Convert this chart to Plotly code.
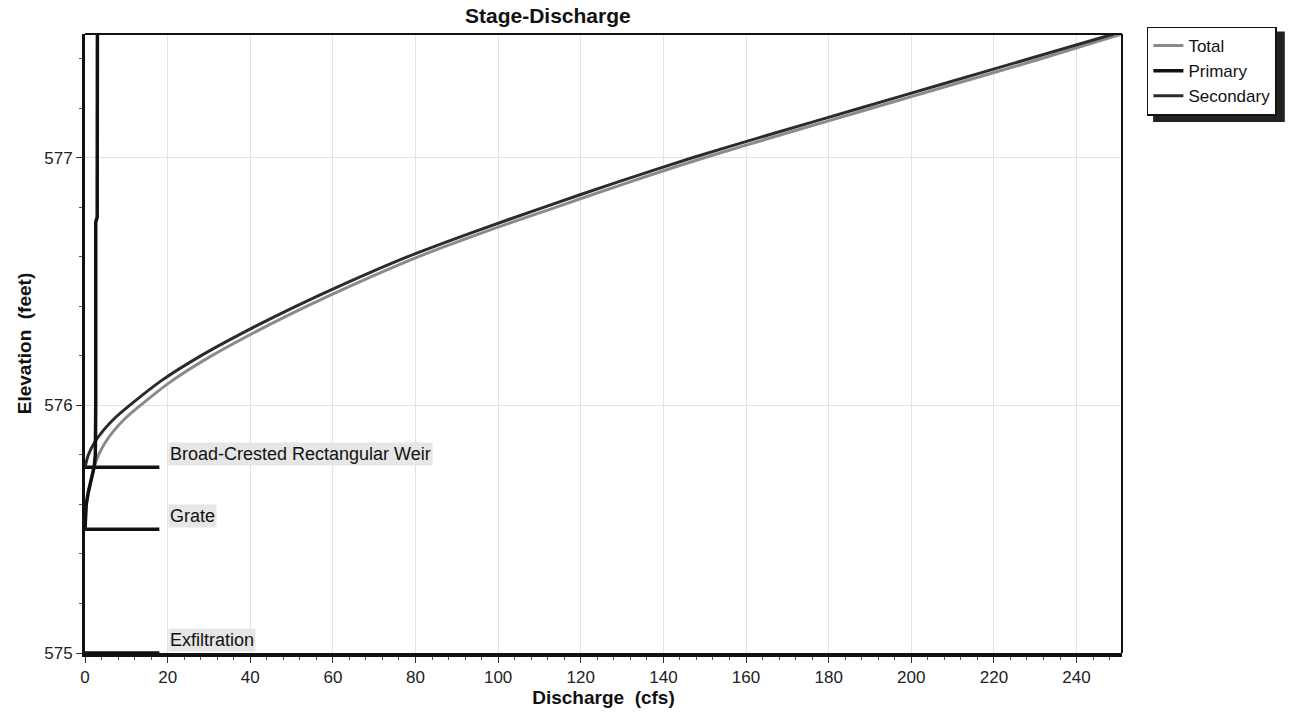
import plotly.graph_objects as go

# ---- data ----
# Secondary (broad-crested rectangular weir)
elev_secondary = [575.75, 575.80, 575.85, 575.90, 575.95, 576.00, 576.10, 576.20, 576.30,
                  576.40, 576.50, 576.60, 576.70, 576.80, 576.90, 577.00, 577.10, 577.20,
                  577.30, 577.40, 577.50]
q_secondary = [0.0, 0.8, 2.3, 4.5, 7.3, 10.8, 18.5, 28.0, 39.0,
               51.0, 64.0, 78.0, 94.0, 111.0, 128.5, 147.0, 167.0, 187.5,
               208.0, 228.5, 249.0]

# Primary (grate)
elev_primary = [575.50, 575.55, 575.60, 575.65, 575.70, 575.75, 575.80, 575.90, 576.00,
                576.50, 576.74, 576.76, 577.00, 577.50]
q_primary = [0.0, 0.1, 0.3, 0.8, 1.5, 2.2, 2.5, 2.6, 2.6,
             2.6, 2.6, 2.95, 2.95, 3.0]

# Total
elev_total = [575.50, 575.60, 575.70, 575.75, 575.80, 575.85, 575.90, 575.95, 576.00,
              576.10, 576.20, 576.30, 576.40, 576.50, 576.60, 576.70, 576.80, 576.90,
              577.00, 577.10, 577.20, 577.30, 577.40, 577.50]
q_total = [0.0, 0.3, 1.5, 2.2, 3.3, 4.9, 7.1, 9.9, 13.4,
           21.1, 30.6, 41.6, 53.6, 66.6, 80.6, 96.6, 113.9, 131.4,
           149.9, 169.9, 190.4, 210.9, 231.4, 251.0]

# Outlet structures (invert elevations) and their marker extent
structure_names = ["Broad-Crested Rectangular Weir", "Grate", "Exfiltration"]
structure_elev = [575.75, 575.50, 575.00]
structure_marker_q = [0, 18]
label_q = 20

x_ticks = [0, 20, 40, 60, 80, 100, 120, 140, 160, 180, 200, 220, 240]
y_ticks = [575, 576, 577]
x_range = [0, 251]
y_range = [575, 577.5]

FONT = "Liberation Sans, Arial, sans-serif"

fig = go.Figure()

for name, el in zip(structure_names, structure_elev):
    fig.add_trace(go.Scatter(
        x=structure_marker_q, y=[el, el], mode="lines",
        line=dict(color="#111111", width=3.5), showlegend=False, hoverinfo="skip"))
    fig.add_annotation(
        x=label_q, y=el, xref="x", yref="y", text=name, showarrow=False,
        xanchor="left", yanchor="middle", yshift=13,
        font=dict(family=FONT, size=18, color="#111111"),
        bgcolor="#e6e6e6", borderpad=1)

fig.add_trace(go.Scatter(x=q_total, y=elev_total, mode="lines", name="Total",
                         line=dict(color="#8a8a8a", width=3, shape="spline", smoothing=0.8),
                         legendrank=1))
fig.add_trace(go.Scatter(x=q_secondary, y=elev_secondary, mode="lines", name="Secondary",
                         line=dict(color="#2b2b2b", width=3, shape="spline", smoothing=0.8),
                         legendrank=3))
fig.add_trace(go.Scatter(x=q_primary, y=elev_primary, mode="lines", name="Primary",
                         line=dict(color="#111111", width=3.5), legendrank=2))

# frame (top / right)
fig.add_shape(type="line", xref="paper", yref="paper", x0=0, x1=1, y0=1, y1=1,
              line=dict(color="#111111", width=2))
fig.add_shape(type="line", xref="paper", yref="paper", x0=1, x1=1, y0=0, y1=1,
              line=dict(color="#111111", width=2))
# legend shadow
fig.add_shape(type="rect", xref="paper", yref="paper", x0=1.030, x1=1.157, y0=0.858, y1=1.004,
              line=dict(width=0), fillcolor="#222222", layer="below")

fig.update_layout(
    width=1289, height=715,
    margin=dict(l=85, r=167, t=34, b=55),
    paper_bgcolor="white", plot_bgcolor="white",
    font=dict(family=FONT, color="#111111"),
    title=dict(text="<b>Stage-Discharge</b>", x=0.425, xanchor="center",
               y=0.978, yanchor="middle", yref="container",
               font=dict(family=FONT, size=21, color="#111111")),
    legend=dict(x=1.024, y=1.012, xanchor="left", yanchor="top",
                bgcolor="white", bordercolor="#111111", borderwidth=1.5,
                font=dict(family=FONT, size=17, color="#111111"),
                tracegroupgap=0, itemwidth=30),
    xaxis=dict(range=x_range, tickvals=x_ticks, ticks="outside", ticklen=6,
               tickcolor="#333", tickfont=dict(size=17, color="#222"),
               showline=True, linecolor="#111111", linewidth=4,
               showgrid=True, gridcolor="#e2e2e2", gridwidth=1, zeroline=False,
               minor=dict(dtick=4, ticks="outside", ticklen=3, tickcolor="#555", showgrid=False),
               title=dict(text="<b>Discharge  (cfs)</b>", standoff=2,
                          font=dict(size=19, color="#111111"))),
    yaxis=dict(range=y_range, tickvals=y_ticks, ticks="outside", ticklen=6,
               tickcolor="#333", tickfont=dict(size=17, color="#222"),
               showline=True, linecolor="#111111", linewidth=3,
               showgrid=True, gridcolor="#e2e2e2", gridwidth=1, zeroline=False,
               minor=dict(dtick=0.2, ticks="outside", ticklen=3, tickcolor="#555", showgrid=False),
               title=dict(text="<b>Elevation  (feet)</b>", standoff=8,
                          font=dict(size=19, color="#111111"))),
)

fig.write_html("out.html")
